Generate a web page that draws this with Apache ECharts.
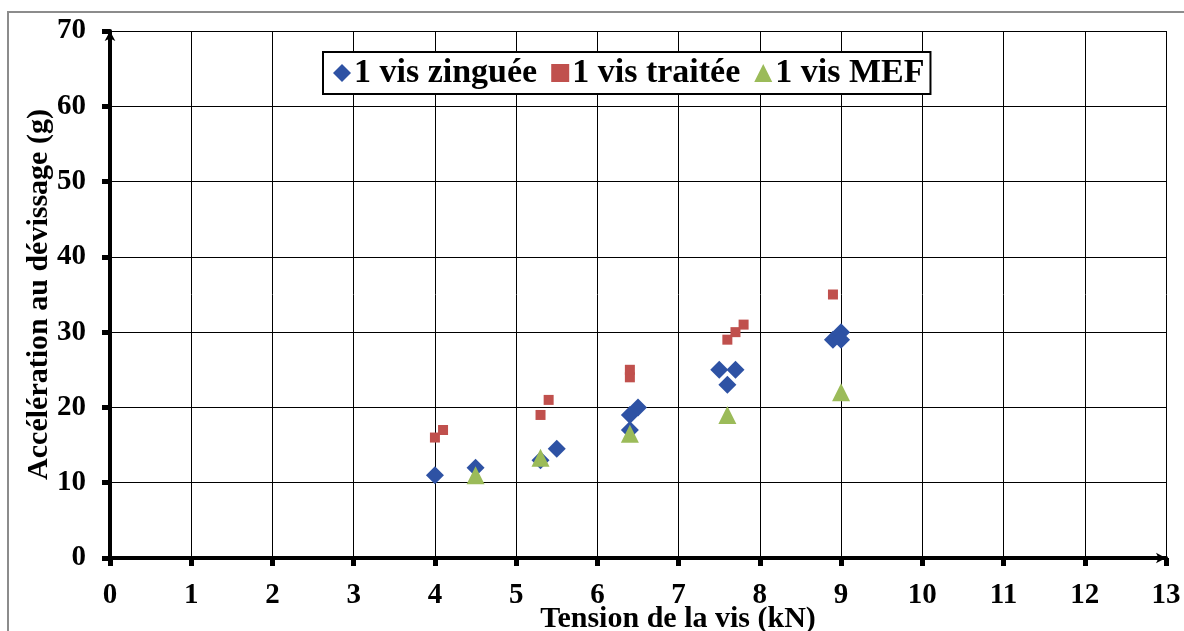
<!DOCTYPE html>
<html>
<head>
<meta charset="utf-8">
<title>Accélération au dévissage</title>
<script src="https://cdn.jsdelivr.net/npm/echarts@6/dist/echarts.min.js"></script>
<style>
  html, body { margin: 0; padding: 0; background: #fff; }
  #chart { width: 1184px; height: 631px; }
</style>
</head>
<body>
<div id="chart"></div>
<script>
// [tension kN, accélération g]
const zinguee = [
  [4, 11], [4.5, 12], [5.3, 13], [5.5, 14.5],
  [6.4, 17], [6.4, 19], [6.5, 20],
  [7.5, 25], [7.7, 25], [7.6, 23],
  [8.9, 29], [9, 30], [9, 29]
];
const traitee = [
  [4, 16], [4.1, 17], [5.3, 19], [5.4, 21],
  [6.4, 24], [6.4, 25],
  [7.6, 29], [7.7, 30], [7.8, 31], [8.9, 35]
];
const mef = [
  [4.5, 11], [5.3, 13.3], [6.4, 16.5], [7.6, 19], [9, 22]
];
const seriesNames = ["1 vis zinguée", "1 vis traitée", "1 vis MEF"];
const colors = ["#2E52A4", "#C0504D", "#9BBB59"];

const font = "Liberation Serif";

const chart = echarts.init(document.getElementById("chart"));

const axisCommon = {
  type: "value",
  axisLine: {
    show: true,
    symbol: ["none", "arrow"],
    symbolSize: [8, 10],
    lineStyle: { color: "#000", width: 4 },
  },
  axisTick: {
    show: true,
    inside: false,
    length: 8,
    lineStyle: { color: "#000", width: 5 },
  },
  splitLine: {
    show: true,
    lineStyle: { color: "#000", width: 1 },
  },
  axisLabel: {
    color: "#000",
    fontFamily: font,
    fontWeight: "bold",
    fontSize: 29,
  },
  nameLocation: "middle",
  nameMoveOverlap: false,
  nameTextStyle: {
    color: "#000",
    fontFamily: font,
    fontWeight: "bold",
    fontSize: 30,
  },
};

const option = {
  animation: false,
  backgroundColor: "#fff",
  graphic: [
    {
      // outer frame of the figure
      type: "rect",
      shape: { x: 8, y: 12, width: 1200, height: 700 },
      style: { fill: "none", stroke: "#8c8c8c", lineWidth: 2 },
      z: -1,
    },
  ],
  grid: {
    left: 110,
    right: 18,
    top: 31,
    bottom: 73,
    outerBoundsMode: "none",
  },
  legend: {
    left: 323,
    top: 52,
    padding: [4, 6, 4, 10],
    itemGap: 14,
    itemWidth: 18,
    itemHeight: 18,
    borderColor: "#000",
    borderWidth: 2,
    backgroundColor: "#fff",
    textStyle: {
      color: "#000",
      fontFamily: font,
      fontWeight: "bold",
      fontSize: 34,
      padding: [0, 0, 0, -2],
    },
    data: [
      { name: seriesNames[0], icon: "diamond" },
      { name: seriesNames[1], icon: "rect" },
      { name: seriesNames[2], icon: "triangle" },
    ],
  },
  xAxis: Object.assign({}, axisCommon, {
    min: 0,
    max: 13,
    interval: 1,
    name: "Tension de la vis (kN)",
    nameGap: 46,
    nameTextStyle: Object.assign({}, axisCommon.nameTextStyle, {
      padding: [0, 0, 0, 80],
    }),
    axisLabel: Object.assign({}, axisCommon.axisLabel, { margin: 23 }),
  }),
  yAxis: Object.assign({}, axisCommon, {
    min: 0,
    max: 70,
    interval: 10,
    name: "Accélération au dévissage (g)",
    nameGap: 56,
    axisLabel: Object.assign({}, axisCommon.axisLabel, { margin: 24 }),
  }),
  series: [
    {
      name: seriesNames[0],
      type: "scatter",
      symbol: "diamond",
      symbolSize: 18,
      itemStyle: { color: colors[0], opacity: 1 },
      data: zinguee,
      z: 3,
    },
    {
      name: seriesNames[1],
      type: "scatter",
      symbol: "rect",
      symbolSize: 10,
      itemStyle: { color: colors[1], opacity: 1 },
      data: traitee,
      z: 4,
    },
    {
      name: seriesNames[2],
      type: "scatter",
      symbol: "triangle",
      symbolSize: 18,
      itemStyle: { color: colors[2], opacity: 1 },
      data: mef,
      z: 5,
    },
  ],
};

chart.setOption(option);
</script>
</body>
</html>
